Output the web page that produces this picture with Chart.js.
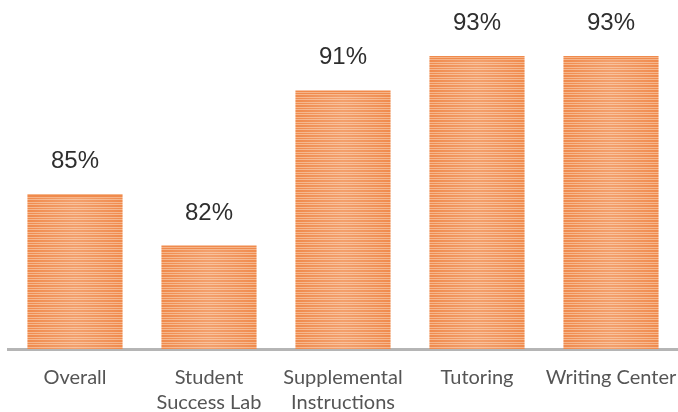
<!DOCTYPE html>
<html>
<head>
<meta charset="utf-8">
<script src="https://cdn.jsdelivr.net/npm/chart.js@4/dist/chart.umd.min.js"></script>
<style>
  html, body { margin: 0; padding: 0; background: #fff; }
  #wrap { width: 678px; height: 412px; }
</style>
</head>
<body>
<div id="wrap"><canvas id="satChart"></canvas></div>
<script>
const categories = ["Overall", ["Student", "Success Lab"], ["Supplemental", "Instructions"], "Tutoring", "Writing Center"];
const satisfaction = [85, 82, 91, 93, 93];
const yMin = 76;
const yMax = 96.25;

// striped orange fill like the original bars
function stripePattern() {
  const c = document.createElement("canvas");
  c.width = 4; c.height = 5;
  const g = c.getContext("2d");
  g.fillStyle = "#f08a4c";
  g.fillRect(0, 0, 4, 5);
  g.fillStyle = "#f5b58a";
  g.fillRect(0, 2, 4, 1);
  g.fillRect(0, 4, 4, 1);
  return g.createPattern(c, "repeat");
}

// soft light band down the middle of each bar
const barSheen = {
  id: "barSheen",
  afterDatasetsDraw(chart) {
    const ctx = chart.ctx;
    const area = chart.chartArea;
    ctx.save();
    ctx.beginPath();
    ctx.rect(area.left, area.top, area.right - area.left, area.bottom - area.top);
    ctx.clip();
    chart.getDatasetMeta(0).data.forEach(bar => {
      const p = bar.getProps(["x", "y", "base", "width"], true);
      const left = p.x - p.width / 2;
      const grad = ctx.createLinearGradient(left, 0, left + p.width, 0);
      grad.addColorStop(0, "rgba(255,255,255,0)");
      grad.addColorStop(0.5, "rgba(255,235,220,0.22)");
      grad.addColorStop(1, "rgba(255,255,255,0)");
      ctx.fillStyle = grad;
      ctx.fillRect(left, p.y + 4, p.width, p.base - p.y - 4);
    });
    ctx.restore();
  }
};

const valueLabels = {
  id: "valueLabels",
  afterDatasetsDraw(chart) {
    const ctx = chart.ctx;
    const meta = chart.getDatasetMeta(0);
    ctx.save();
    ctx.font = "24px 'Liberation Sans', Arial, sans-serif";
    ctx.fillStyle = "#2e2e2e";
    ctx.textAlign = "center";
    ctx.textBaseline = "alphabetic";
    meta.data.forEach((bar, i) => {
      ctx.fillText(satisfaction[i] + "%", bar.x, bar.y - 26);
    });
    ctx.restore();
  }
};

const ctx = document.getElementById("satChart").getContext("2d");
new Chart(ctx, {
  type: "bar",
  data: {
    labels: categories,
    datasets: [{
      data: satisfaction,
      backgroundColor: stripePattern(),
      borderWidth: 0,
      barPercentage: 0.71,
      categoryPercentage: 1
    }]
  },
  options: {
    responsive: true,
    maintainAspectRatio: false,
    animation: false,
    layout: { padding: { left: 8, right: 0, top: 0, bottom: 0 } },
    plugins: { legend: { display: false }, tooltip: { enabled: false } },
    scales: {
      x: {
        grid: { display: false, drawTicks: false },
        border: { display: true, color: "#b5b5b5", width: 3 },
        ticks: {
          color: "#555555",
          font: { family: "Lato, 'Open Sans', sans-serif", size: 20, lineHeight: 1.25 },
          padding: 16,
          maxRotation: 0,
          autoSkip: false
        },
        afterFit(scale) {
          // let the last label run to the edge, as in the original
          scale.paddingLeft = 0;
          scale.paddingRight = 0;
          scale.height = 63;
        }
      },
      y: {
        display: false,
        min: yMin,
        max: yMax
      }
    }
  },
  plugins: [barSheen, valueLabels]
});
</script>
</body>
</html>
